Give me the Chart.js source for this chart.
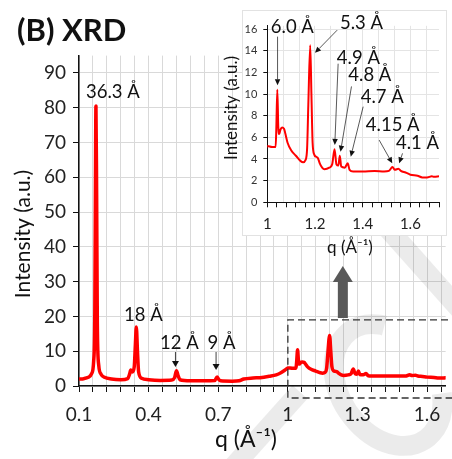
<!DOCTYPE html>
<html>
<head>
<meta charset="utf-8">
<script src="https://cdn.jsdelivr.net/npm/chart.js@4.4.0/dist/chart.umd.min.js"></script>
<style>
    body { margin: 0; background: #fff; }
    #wrap { position: relative; width: 452px; height: 459px; }
    canvas { position: absolute; top: 0; }
</style>
</head>
<body>
<div id="wrap">
    <canvas id="mainChart" width="452" height="459" style="left:0"></canvas>
    <canvas id="insetChart" width="237" height="262" style="left:215px"></canvas>
</div>
<script>
const FONT = 'Lato, "Open Sans", sans-serif';

// q (1/Å) and intensity (a.u.)
const qValues = [
    0.10, 0.12, 0.14, 0.155, 0.163, 0.168, 0.171, 0.173, 0.176, 0.179, 0.185, 0.195, 0.21, 0.24, 0.28,
    0.31, 0.318, 0.323, 0.33, 0.338, 0.343, 0.347, 0.352, 0.357, 0.37, 0.40, 0.45, 0.50, 0.512, 0.52,
    0.527, 0.535, 0.58, 0.64, 0.685, 0.695, 0.702, 0.71, 0.76, 0.79, 0.81, 0.85, 0.88, 0.92, 0.95,
    0.97, 0.99, 1.00, 1.02, 1.035, 1.038, 1.042, 1.046, 1.05, 1.055, 1.062, 1.07, 1.075, 1.085, 1.10,
    1.12, 1.14, 1.15, 1.16, 1.167, 1.172, 1.18, 1.185, 1.19, 1.197, 1.205, 1.212, 1.22, 1.23, 1.24,
    1.26, 1.272, 1.282, 1.29, 1.298, 1.304, 1.31, 1.325, 1.337, 1.345, 1.36, 1.40, 1.45, 1.49, 1.51,
    1.525, 1.535, 1.55, 1.56, 1.58, 1.60, 1.63, 1.65, 1.67, 1.69, 1.70, 1.72
];
const intensity = [
    2.0, 2.1, 2.5, 3.6, 7, 20, 60, 80.5, 55, 18, 6, 3.4, 2.5, 2.0, 1.8,
    2.1, 3.4, 4.6, 4.0, 5.5, 12, 17, 10, 4, 2.2, 1.8, 1.6, 1.7, 2.4, 4.4,
    3.0, 1.8, 1.5, 1.5, 1.6, 2.6, 1.9, 1.5, 1.4, 1.5, 2.0, 2.3, 2.4, 2.8, 3.2,
    3.8, 4.7, 5.2, 5.1, 5.1, 7.0, 10.4, 7.0, 6.3, 6.7, 6.9, 6.8, 6.4, 5.5, 4.8,
    4.3, 3.8, 3.7, 3.9, 5.0, 9.0, 14.5, 10.0, 5.5, 4.4, 4.2, 4.1, 3.6, 3.2, 3.05,
    3.2, 3.5, 4.9, 3.5, 3.4, 4.3, 3.3, 3.2, 3.6, 3.0, 2.85, 2.85, 2.9, 2.85, 2.9,
    3.25, 3.0, 3.1, 2.9, 2.75, 2.55, 2.45, 2.3, 2.3, 2.4, 2.35, 2.4
];

const mainXLabels = [0.1, 0.4, 0.7, 1, 1.3, 1.6];
const mainYTicks = [0, 10, 20, 30, 40, 50, 60, 70, 80, 90];
const insetXLabels = [1, 1.2, 1.4, 1.6];
const insetYTicks = [0, 2, 4, 6, 8, 10, 12, 14, 16];

const mainPeakQ = [0.173, 0.347, 0.52, 0.695];
const mainPeakLabels = ['36.3 Å', '18 Å', '12 Å', '9 Å'];
const insetPeakLabels = ['6.0 Å', '5.3 Å', '4.9 Å', '4.8 Å', '4.7 Å', '4.15 Å', '4.1 Å'];

// minor tick steps
const mainXTicks = [];
for (let k = 0; k <= 26; k++) mainXTicks.push(+(0.1 + k * 0.06).toFixed(2));
const insetXTicks = [];
for (let k = 0; k <= 18; k++) insetXTicks.push(+(1 + k * 0.04).toFixed(2));
const insetGridX = [];
for (let k = 1; k <= 10; k++) insetGridX.push(1 + k / 15);

const points = qValues.map((q, i) => ({ x: q, y: intensity[i] }));

function isLabel(list, v) {
    return list.some(l => Math.abs(l - v) < 1e-6);
}

function arrow(ctx, x1, y1, x2, y2, head, w) {
    const a = Math.atan2(y2 - y1, x2 - x1);
    const bx = x2 - head * Math.cos(a);
    const by = y2 - head * Math.sin(a);
    ctx.beginPath();
    ctx.moveTo(x1, y1);
    ctx.lineTo(bx, by);
    ctx.stroke();
    ctx.beginPath();
    ctx.moveTo(x2, y2);
    ctx.lineTo(bx + w / 2 * Math.sin(a), by - w / 2 * Math.cos(a));
    ctx.lineTo(bx - w / 2 * Math.sin(a), by + w / 2 * Math.cos(a));
    ctx.closePath();
    ctx.fill();
}

const mainDecor = {
    id: 'mainDecor',
    beforeDatasetsDraw(chart) {
        // faint watermark strokes
        const ctx = chart.ctx;
        ctx.save();
        ctx.strokeStyle = 'rgba(0,0,0,0.08)';
        ctx.lineWidth = 20;
        ctx.beginPath();
        ctx.moveTo(382, 222);
        ctx.lineTo(462, 312);
        ctx.stroke();
        ctx.beginPath();
        ctx.ellipse(388, 385, 48, 66, -0.6, 0.6, 5.4);
        ctx.stroke();
        ctx.beginPath();
        ctx.moveTo(232, 468);
        ctx.lineTo(300, 392);
        ctx.stroke();
        ctx.restore();
    },
    afterDraw(chart) {
        const ctx = chart.ctx;
        const xs = chart.scales.x;
        const ys = chart.scales.y;
        ctx.save();
        ctx.fillStyle = '#111';
        ctx.strokeStyle = '#111';

        ctx.font = 'bold 31px ' + FONT;
        ctx.textAlign = 'left';
        ctx.textBaseline = 'middle';
        ctx.fillText('(B) XRD', 17, 31);

        ctx.font = '23px ' + FONT;
        ctx.textAlign = 'center';
        ctx.fillText('q (Å⁻¹)', 246, 440);

        ctx.save();
        ctx.translate(23, 234);
        ctx.rotate(-Math.PI / 2);
        ctx.font = '21px ' + FONT;
        ctx.fillText('Intensity (a.u.)', 0, 0);
        ctx.restore();

        // peak labels
        ctx.font = '18.5px ' + FONT;
        const off = [[17, 92], [7, 315], [3, 343], [4.5, 343]];
        mainPeakQ.forEach((q, i) => {
            const px = xs.getPixelForValue(q);
            ctx.fillText(mainPeakLabels[i], px + off[i][0], off[i][1]);
        });
        ctx.lineWidth = 0.8;
        [2, 3].forEach(i => {
            const px = xs.getPixelForValue(mainPeakQ[i]) - 1;
            arrow(ctx, px, 352, px, i === 2 ? 367 : 370, 6, 7);
        });

        // zoom box + arrow to inset
        const left = xs.getPixelForValue(1.0);
        ctx.setLineDash([7, 4]);
        ctx.lineWidth = 1.3;
        ctx.strokeStyle = '#333';
        ctx.beginPath();
        ctx.moveTo(470, ys.getPixelForValue(19));
        ctx.lineTo(left, ys.getPixelForValue(19));
        ctx.lineTo(left, 398);
        ctx.lineTo(470, 398);
        ctx.stroke();
        ctx.setLineDash([]);

        const ax = xs.getPixelForValue(1.237);
        ctx.fillStyle = '#595959';
        ctx.fillRect(ax - 5, 280, 10, 38);
        ctx.beginPath();
        ctx.moveTo(ax, 266);
        ctx.lineTo(ax + 10, 282);
        ctx.lineTo(ax - 10, 282);
        ctx.closePath();
        ctx.fill();
        ctx.restore();
    }
};

const insetDecor = {
    id: 'insetDecor',
    beforeDraw(chart) {
        const ctx = chart.ctx;
        ctx.save();
        ctx.fillStyle = '#fff';
        ctx.fillRect(27, 10, 205, 226);
        ctx.strokeStyle = '#e2e2e2';
        ctx.lineWidth = 1;
        ctx.strokeRect(27.5, 10.5, 204, 225);
        ctx.restore();
    },
    afterDraw(chart) {
        const ctx = chart.ctx;
        const xs = chart.scales.x;
        const ys = chart.scales.y;
        const X = v => xs.getPixelForValue(v);
        const Y = v => ys.getPixelForValue(v);
        ctx.save();
        ctx.fillStyle = '#111';
        ctx.strokeStyle = '#111';
        ctx.textAlign = 'center';
        ctx.textBaseline = 'middle';

        ctx.font = '17px ' + FONT;
        ctx.fillText('q (Å⁻¹)', 135, 248);
        ctx.save();
        ctx.translate(17, 108);
        ctx.rotate(-Math.PI / 2);
        ctx.fillText('Intensity (a.u.)', 0, 0);
        ctx.restore();

        // text centre and arrow start/end, in data units
        const place = [
            [1.105, 16.2, 1.043, 15.3, 1.043, 10.8],
            [1.395, 16.6, 1.293, 15.9, 1.200, 13.8],
            [1.382, 13.3, 1.297, 12.8, 1.283, 5.3],
            [1.430, 11.75, 1.353, 10.7, 1.307, 4.67],
            [1.482, 9.75, 1.402, 8.83, 1.350, 4.21],
            [1.526, 7.14, 1.469, 5.75, 1.524, 3.6],
            [1.630, 5.45, 1.567, 4.52, 1.553, 3.6]
        ];
        ctx.font = '18.5px ' + FONT;
        ctx.lineWidth = 0.7;
        place.forEach((p, i) => {
            ctx.fillText(insetPeakLabels[i], X(p[0]), Y(p[1]));
            arrow(ctx, X(p[2]), Y(p[3]), X(p[4]), Y(p[5]), 6, 5.5);
        });
        ctx.restore();
    }
};

new Chart(document.getElementById('mainChart'), {
    type: 'line',
    data: {
        datasets: [{
            data: points,
            borderColor: '#ff0000',
            borderWidth: 3.5,
            pointRadius: 0,
            cubicInterpolationMode: 'monotone',
            borderJoinStyle: 'round'
        }]
    },
    options: {
        responsive: false,
        devicePixelRatio: 1,
        animation: false,
        layout: { padding: { top: 55.6, right: 0, left: 0, bottom: 0 } },
        plugins: { legend: { display: false }, tooltip: { enabled: false } },
        scales: {
            x: {
                type: 'linear',
                min: 0.1,
                max: 1.68,
                afterBuildTicks: axis => { axis.ticks = mainXTicks.map(v => ({ value: v })); },
                afterFit: axis => { axis.height = 73; },
                ticks: {
                    autoSkip: false,
                    maxRotation: 0,
                    padding: 11,
                    color: '#222',
                    font: { family: FONT, size: 19 },
                    callback: v => isLabel(mainXLabels, v) ? String(+v.toFixed(2)) : ''
                },
                grid: { color: '#d9d9d9', tickColor: '#111', tickLength: 6 },
                border: { color: '#111', width: 1.5 }
            },
            y: {
                min: 0,
                max: 95,
                afterBuildTicks: axis => { axis.ticks = mainYTicks.map(v => ({ value: v })); },
                afterFit: axis => { axis.width = 79; },
                ticks: {
                    padding: 7,
                    color: '#222',
                    font: { family: FONT, size: 19 }
                },
                grid: { color: '#d9d9d9', tickColor: '#111', tickLength: 6 },
                border: { color: '#111', width: 1.5 }
            }
        }
    },
    plugins: [mainDecor]
});

new Chart(document.getElementById('insetChart'), {
    type: 'line',
    data: {
        datasets: [{
            data: points,
            borderColor: '#ff0000',
            borderWidth: 2,
            pointRadius: 0,
            cubicInterpolationMode: 'monotone',
            borderJoinStyle: 'round'
        }]
    },
    options: {
        responsive: false,
        devicePixelRatio: 1,
        animation: false,
        layout: { padding: { top: 25.8, right: 13, left: 0, bottom: 0 } },
        plugins: { legend: { display: false }, tooltip: { enabled: false } },
        scales: {
            x: {
                type: 'linear',
                min: 1,
                max: 1.72,
                afterBuildTicks: axis => { axis.ticks = insetXTicks.map(v => ({ value: v })); },
                afterFit: axis => { axis.height = 59.7; },
                ticks: {
                    autoSkip: false,
                    maxRotation: 0,
                    padding: 8,
                    color: '#222',
                    font: { family: FONT, size: 15 },
                    callback: v => isLabel(insetXLabels, v) ? String(+v.toFixed(2)) : ''
                },
                grid: { drawOnChartArea: false, tickColor: '#111', tickLength: 5 },
                border: { color: '#111', width: 1 }
            },
            xg: {
                type: 'linear',
                position: 'bottom',
                min: 1,
                max: 1.72,
                afterBuildTicks: axis => { axis.ticks = insetGridX.map(v => ({ value: v })); },
                afterFit: axis => { axis.height = 0; },
                ticks: { display: false },
                grid: { color: '#e4e4e4', drawTicks: false },
                border: { display: false }
            },
            y: {
                min: 0,
                max: 16.3,
                afterBuildTicks: axis => { axis.ticks = insetYTicks.map(v => ({ value: v })); },
                afterFit: axis => { axis.width = 52.3; },
                ticks: {
                    padding: 6,
                    color: '#333',
                    font: { family: FONT, size: 11 }
                },
                grid: { color: '#e4e4e4', tickColor: '#111', tickLength: 4 },
                border: { color: '#111', width: 1 }
            }
        }
    },
    plugins: [insetDecor]
});
</script>
</body>
</html>
